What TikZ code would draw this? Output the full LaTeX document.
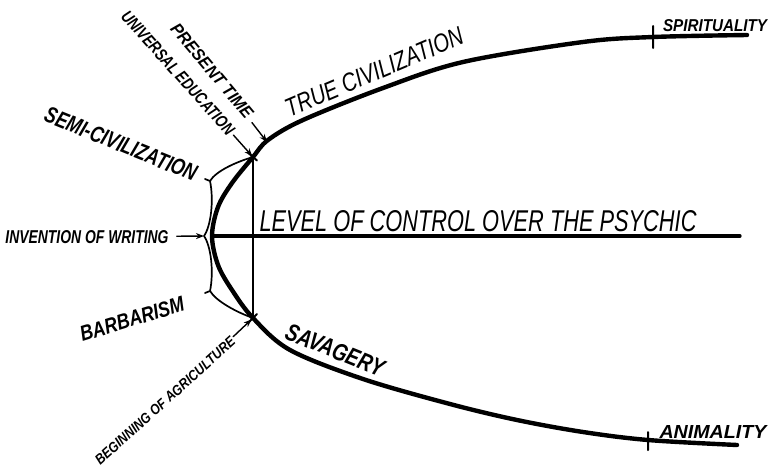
\documentclass[tikz,border=0pt]{standalone}
\usepackage{fontspec}
\setmainfont{Liberation Sans}
\usepackage{graphicx}
\usetikzlibrary{arrows.meta}
\newcommand{\lbl}[3]{\resizebox{#1pt}{#2pt}{#3}}
\tikzset{
  curve/.style={line width=4.4pt, line cap=round, line join=round},
  axis/.style={line width=3.2pt, line cap=round},
  brace/.style={line width=1.7pt, line join=round},
  tickmark/.style={line width=2pt},
  lab/.style={inner sep=0pt, font=\bfseries\itshape},
  thinlab/.style={inner sep=0pt, font=\itshape},
  arr/.style={-{Stealth[length=8pt,width=6pt]}, line width=1.4pt},
}
\begin{document}
\begin{tikzpicture}[x=1pt, y=-1pt, line join=round, line cap=round]
\useasboundingbox (0,0) rectangle (769,472);
\path (212,236) coordinate (V) (253,157) coordinate (T) (253,318) coordinate (B)
  (204,236) coordinate (C) (267,142) coordinate (P) (740,236) coordinate (E)
  (653,37) coordinate (S) (648,440) coordinate (A);
% the curve of progress
\draw[curve] plot[smooth, tension=.55] coordinates {(747,35) (653,37) (583,42) (463,62) (383,88) (303,120) (268,140) (T) (232,183) (218,207) (V) (218,265) (232,290) (B) (290,350) (363,379) (450,404) (517,420) (583,432) (A) (737,445)};
\draw[axis] (V)--(E);
\draw[line width=2.2pt] (T)--(B);
\draw[brace] (T) .. controls (236,162) and (216,171) .. (210,181) -- (205,179)
  (210,181) .. controls (214,200) and (211,226) .. (C)
  .. controls (211,246) and (214,272) .. (210,291) -- (205,293)
  (210,291) .. controls (216,301) and (236,312) .. (B);
\draw[tickmark] (T)++(-4,-3.5) -- ++(8,7) (B)++(-4,4) -- ++(8,-8)
  (S)++(0,-11) -- ++(0,22) (A)++(0,-8) -- ++(0,18);
% labels
\node[lab, rotate=-50] (present) at (212,71) {\lbl{118}{12}{PRESENT TIME}};
\node[lab, rotate=-48] (educ) at (178,73) {\lbl{160}{12}{UNIVERSAL EDUCATION}};
\node[lab, rotate=-22] (semi) at (121,144) {\lbl{162}{16}{SEMI-CIVILIZATION}};
\node[lab] (writing) at (87,237) {\lbl{163}{13}{INVENTION OF WRITING}};
\node[lab, rotate=17] (barb) at (132,319) {\lbl{108}{15}{BARBARISM}};
\node[lab, rotate=42] (agri) at (165,401) {\lbl{183}{10}{BEGINNING OF AGRICULTURE}};
\node[thinlab, rotate=23] (truec) at (374,72) {\lbl{191}{18}{TRUE CIVILIZATION}};
\node[lab, rotate=-22] (savage) at (335,350) {\lbl{104}{17}{SAVAGERY}};
\node[thinlab] (level) at (478,221) {\lbl{437}{21}{LEVEL OF CONTROL OVER THE PSYCHIC}};
\node[lab] (spirit) at (715,26) {\lbl{104}{12}{SPIRITUALITY}};
\node[lab] (animal) at (713,432) {\lbl{107}{13}{ANIMALITY}};
% arrows
\draw[arr, shorten <=6pt] (present) -- (P);
\draw[arr, shorten <=3pt, shorten >=1pt] (educ) -- (T);
\draw[arr, shorten <=8pt] (writing) -- (C);
\draw[arr, shorten <=2pt, shorten >=2pt] (agri) -- (B);
\end{tikzpicture}
\end{document}
